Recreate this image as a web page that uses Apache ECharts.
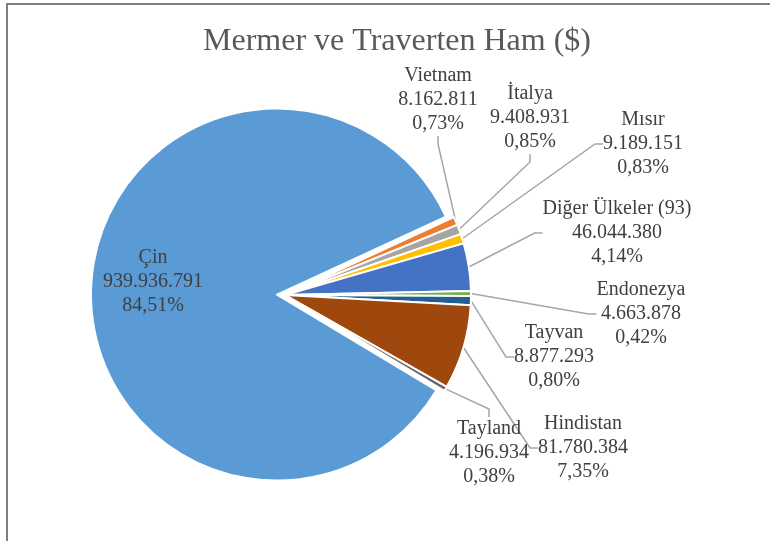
<!DOCTYPE html>
<html>
<head>
<meta charset="utf-8">
<script src="https://cdn.jsdelivr.net/npm/echarts@6/dist/echarts.min.js"></script>
<style>
  html, body { margin: 0; padding: 0; background: #fff; }
  #main { width: 770px; height: 541px; }
</style>
</head>
<body>
<div id="main"></div>
<script>
// ülkeler ve değerler ($)
var countries = ['Çin', 'Vietnam', 'İtalya', 'Mısır', 'Diğer Ülkeler (93)', 'Endonezya', 'Tayvan', 'Hindistan', 'Tayland'];
var values = [939936791, 8162811, 9408931, 9189151, 46044380, 4663878, 8877293, 81780384, 4196934];
var colors = ['#5B9BD5', '#ED7D31', '#A5A5A5', '#FFC000', '#4472C4', '#70AD47', '#255E91', '#9E480E', '#636363'];

// etiketlerin yeri (metin bloğunun ortası)
var labelPos = [[153, 282], [438, 100], [530, 118], [643, 144], [617, 233], [641, 314], [554, 357], [583, 448], [489, 453]];

var total = 0;
values.forEach(function (v) { total += v; });

function fmtNum(v) {
  return String(v).replace(/\B(?=(\d{3})+(?!\d))/g, '.');
}
function labelText(name, v) {
  var pct = (v / total * 100).toFixed(2).replace('.', ',');
  return name + '\n' + fmtNum(v) + '\n' + pct + '%';
}

var labelFont = {
  fontFamily: 'Liberation Serif',
  fontSize: 20,
  lineHeight: 24
};

var pieData = countries.map(function (name, i) {
  var item = { name: name, value: values[i], itemStyle: { color: colors[i] } };
  if (i === 0) {
    // Çin dilimi ayrık; etiketi aşağıda grafik metin olarak
    item.selected = true;
    item.label = { show: false };
    item.labelLine = { show: false };
  }
  return item;
});

var chart = echarts.init(document.getElementById('main'));
var option = {
  animation: false,
  title: {
    text: 'Mermer ve Traverten Ham ($)',
    left: 392,
    top: 21,
    textAlign: 'center',
    textStyle: {
      fontFamily: 'Liberation Serif',
      fontSize: 32,
      fontWeight: 'normal',
      color: '#595959'
    }
  },
  graphic: [{
    type: 'rect',
    shape: { x: 7, y: 4, width: 820, height: 600 },
    style: { fill: 'none', stroke: '#7f7f7f', lineWidth: 2 },
    silent: true
  }, {
    type: 'text',
    x: labelPos[0][0],
    y: labelPos[0][1],
    z: 10,
    silent: true,
    style: {
      text: labelText(countries[0], values[0]),
      fontFamily: labelFont.fontFamily,
      fontSize: labelFont.fontSize,
      lineHeight: labelFont.lineHeight,
      fill: '#404040',
      align: 'center',
      verticalAlign: 'middle'
    }
  }],
  series: [{
    type: 'pie',
    center: [285, 295],
    radius: 186,
    startAngle: 329,
    clockwise: true,
    selectedMode: 'single',
    selectedOffset: 8,
    avoidLabelOverlap: false,
    itemStyle: { borderColor: '#fff', borderWidth: 2 },
    emphasis: { disabled: true },
    label: {
      show: true,
      position: 'outside',
      fontFamily: labelFont.fontFamily,
      fontSize: labelFont.fontSize,
      lineHeight: labelFont.lineHeight,
      color: '#404040',
      align: 'center',
      formatter: function (p) {
        return labelText(p.name, p.value);
      }
    },
    labelLine: {
      show: true,
      length: 10,
      length2: 8,
      lineStyle: { color: '#a6a6a6', width: 1.5 }
    },
    labelLayout: function (params) {
      var pos = labelPos[params.dataIndex];
      return {
        x: pos[0],
        y: pos[1],
        align: 'center',
        verticalAlign: 'middle'
      };
    },
    data: pieData
  }]
};
chart.setOption(option);
</script>
</body>
</html>
